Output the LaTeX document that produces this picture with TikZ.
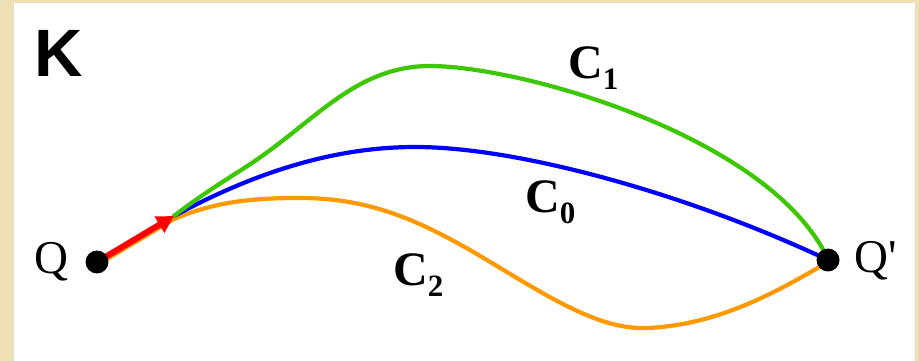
\documentclass[tikz,border=0pt]{standalone}
\usepackage{fontspec}
\setmainfont{Liberation Serif}
\newfontfamily\ksans{Liberation Sans}
\usetikzlibrary{arrows.meta}
\definecolor{parch}{RGB}{238,224,182}
\definecolor{cgreen}{RGB}{60,200,0}
\definecolor{cblue}{RGB}{0,0,255}
\definecolor{corange}{RGB}{255,153,0}
\definecolor{cred}{RGB}{255,0,0}
\newcommand\csub[1]{\fontsize{48}{48}\selectfont\textbf{C}\raisebox{-11pt}{\fontsize{31}{31}\selectfont\textbf{#1}}}
\begin{document}
\begin{tikzpicture}[x=1pt,y=-1pt,
  curve/.style={line width=4.2pt, line join=round, line cap=round},
  dot/.style={circle, fill=black, inner sep=0pt, minimum size=23pt},
  lbl/.style={anchor=base west, inner sep=0pt}]
\fill[parch] (0,0) rectangle (919,361);
\fill[white] (14,3) rectangle (915,361);
\useasboundingbox (0,0) rectangle (919,361);

\coordinate (Qc) at (97,262);
\coordinate (Pc) at (828,260);
\coordinate (T) at (174,216);

% C2 orange
\draw[curve, corange] (97,265) -- (174,219)
  .. controls (215,202) and (250,198) .. (300,198)
  .. controls (370,198) and (420,220) .. (487,260)
  .. controls (550,298) and (600,330) .. (647,328)
  .. controls (720,325) and (780,290) .. (828,262);
% C0 blue
\draw[curve, cblue] (T)
  .. controls (250,175) and (330,147) .. (415,147)
  .. controls (520,147) and (690,195) .. (Pc);
% C1 green
\draw[curve, cgreen] (T)
  .. controls (210,188) and (240,172) .. (262,156)
  .. controls (320,115) and (360,66) .. (430,66)
  .. controls (520,66) and (765,135) .. (826,255);

% red arrow
\draw[cred, line width=6pt, -{Triangle[length=17pt,width=18pt]}] (Qc) -- (T);

\node[dot] (Q) at (Qc) {};
\node[dot] (P) at (Pc) {};

\node[lbl] (K) at (34,77) {\fontsize{67}{67}\selectfont\ksans\bfseries K};
\node[lbl] (Ql) at (34,273) {\fontsize{47}{47}\selectfont Q};
\node[lbl] (Pl) at (854,272) {\fontsize{47}{47}\selectfont Q\textquotesingle};
\node[lbl] (C1) at (568,79) {\csub{1}};
\node[lbl] (C0) at (525,212) {\csub{0}};
\node[lbl] (C2) at (393,285) {\csub{2}};
\end{tikzpicture}
\end{document}
